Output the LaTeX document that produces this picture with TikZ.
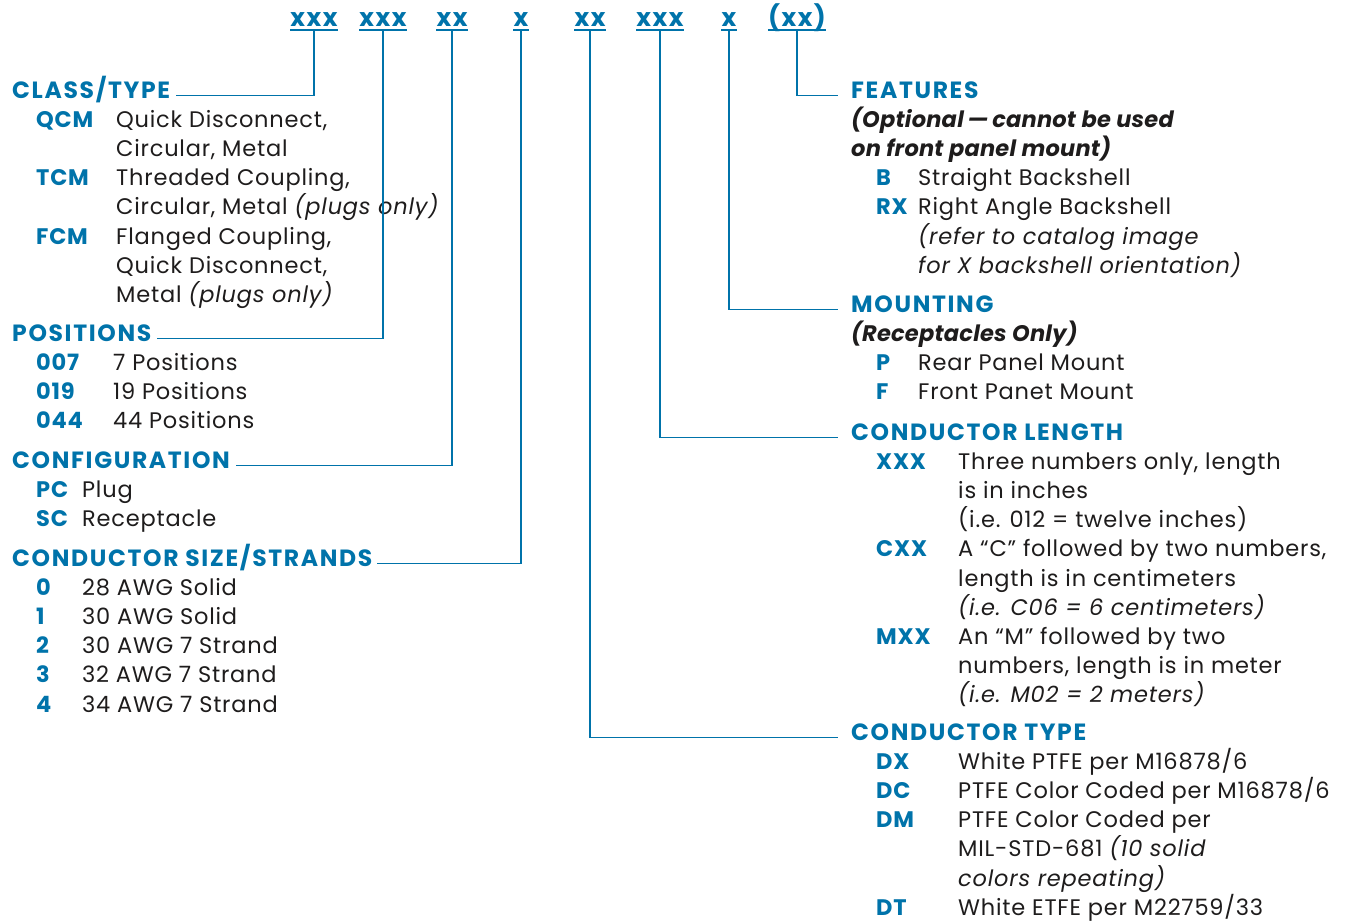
\documentclass[tikz,border=0pt]{standalone}
\usepackage{fontspec}
\setmainfont{Poppins}
\newfontfamily\bodyfont[LetterSpace=3.5]{Poppins}
\newfontfamily\notefont[LetterSpace=1]{Poppins}
\newfontfamily\headfont[LetterSpace=7]{Poppins}
\newfontfamily\fieldfont[LetterSpace=6]{Poppins}
\definecolor{brand}{RGB}{0,115,170}
\definecolor{ink}{RGB}{30,28,28}

\begin{document}
\begin{tikzpicture}[x=1pt,y=-1pt,
    head/.style={font=\headfont\fontsize{23.5}{28}\selectfont\bfseries, text=brand, anchor=base west, inner sep=0pt},
    code/.style={font=\bodyfont\fontsize{22.5}{27}\selectfont\bfseries, text=brand, anchor=base west, inner sep=0pt},
    desc/.style={font=\bodyfont\fontsize{22.5}{27}\selectfont, text=ink, anchor=base west, inner sep=0pt},
    note/.style={font=\notefont\fontsize{22.5}{27}\selectfont\bfseries\itshape, text=ink, anchor=base west, inner sep=0pt},
    top/.style={font=\fieldfont\fontsize{25}{30}\selectfont\bfseries, text=brand, anchor=base, inner xsep=0pt, inner ysep=3.5pt, text depth=0pt},
    rule/.style={draw=brand, line width=1.8pt},
    lead/.style={draw=brand, line width=1.3pt}]
    \useasboundingbox (0,0) rectangle (1347,922);

    % Line spacing of the lists
    \pgfmathsetmacro{\ls}{29.2}

    % Draw the part number fields
    \node[top] (c1) at (314,26) {xxx};
    \node[top] (c2) at (383,26) {xxx};
    \node[top] (c3) at (452,26) {xx};
    \node[top] (c4) at (521,26) {x};
    \node[top] (c5) at (590,26) {xx};
    \node[top] (c6) at (660,26) {xxx};
    \node[top] (c7) at (729,26) {x};
    \node[top] (c8) at (797,26) {(xx)};
    \foreach \n in {c1,c2,c3,c4,c5,c6,c7,c8}
        \draw[rule] (\n.south west) -- (\n.south east);

    % Left column
    \node[head] (class) at (12,98) {CLASS/TYPE};
    \foreach \c/\d [count=\i] in {QCM/{Quick Disconnect,}, /{Circular, Metal},
        TCM/{Threaded Coupling,}, /{Circular, Metal \textit{(plugs only)}},
        FCM/{Flanged Coupling,}, /{Quick Disconnect,}, /{Metal \textit{(plugs only)}}} {
        \pgfmathsetmacro{\yy}{98+\ls*\i}
        \node[code] (cc\i) at (36,\yy) {\c};
        \node[desc] (cd\i) at (116,\yy) {\d};
    }

    \node[head] (pos) at (12,341) {POSITIONS};
    \foreach \c/\d [count=\i] in {007/{7 Positions}, 019/{19 Positions}, 044/{44 Positions}} {
        \pgfmathsetmacro{\yy}{341+\ls*\i}
        \node[code] (pc\i) at (36,\yy) {\c};
        \node[desc] (pd\i) at (113,\yy) {\d};
    }

    \node[head] (conf) at (12,468) {CONFIGURATION};
    \foreach \c/\d [count=\i] in {PC/{Plug}, SC/{Receptacle}} {
        \pgfmathsetmacro{\yy}{468+\ls*\i}
        \node[code] (fc\i) at (36,\yy) {\c};
        \node[desc] (fd\i) at (82,\yy) {\d};
    }

    \node[head] (size) at (12,566) {CONDUCTOR SIZE/STRANDS};
    \foreach \c/\d [count=\i] in {0/{28 AWG Solid}, 1/{30 AWG Solid}, 2/{30 AWG 7 Strand},
        3/{32 AWG 7 Strand}, 4/{34 AWG 7 Strand}} {
        \pgfmathsetmacro{\yy}{566+\ls*\i}
        \node[code] (sc\i) at (36,\yy) {\c};
        \node[desc] (sd\i) at (82,\yy) {\d};
    }

    % Right column
    \node[head] (feat) at (851,98) {FEATURES};
    \node[note] (fn1) at (851,98+\ls) {(Optional\,—\,cannot be used};
    \node[note] (fn2) at (851,98+2*\ls) {on front panel mount)};
    \foreach \c/\d [count=\i from 3] in {B/{Straight Backshell}, RX/{Right Angle Backshell},
        /{\textit{(refer to catalog image}}, /{\textit{for X backshell orientation)}}} {
        \pgfmathsetmacro{\yy}{98+\ls*\i}
        \node[code] (ec\i) at (876,\yy) {\c};
        \node[desc] (ed\i) at (918,\yy) {\d};
    }

    \node[head] (mount) at (851,312) {MOUNTING};
    \node[note] (mn1) at (851,312+\ls) {(Receptacles Only)};
    \foreach \c/\d [count=\i from 2] in {P/{Rear Panel Mount}, F/{Front Panet Mount}} {
        \pgfmathsetmacro{\yy}{312+\ls*\i}
        \node[code] (mc\i) at (876,\yy) {\c};
        \node[desc] (md\i) at (918,\yy) {\d};
    }

    \node[head] (len) at (851,440) {CONDUCTOR LENGTH};
    \foreach \c/\d [count=\i] in {XXX/{Three numbers only, length}, /{is in inches},
        /{(i.e. 012 = twelve inches)}, CXX/{A “C” followed by two numbers,},
        /{length is in centimeters}, /{\textit{(i.e. C06 = 6 centimeters)}},
        MXX/{An “M” followed by two}, /{numbers, length is in meter},
        /{\textit{(i.e. M02 = 2 meters)}}} {
        \pgfmathsetmacro{\yy}{440+\ls*\i}
        \node[code] (lc\i) at (876,\yy) {\c};
        \node[desc] (ld\i) at (958,\yy) {\d};
    }

    \node[head] (type) at (851,740) {CONDUCTOR TYPE};
    \foreach \c/\d [count=\i] in {DX/{White PTFE per M16878/6}, DC/{PTFE Color Coded per M16878/6},
        DM/{PTFE Color Coded per}, /{MIL-STD-681 \textit{(10 solid}},
        /{\textit{colors repeating)}}, DT/{White ETFE per M22759/33}} {
        \pgfmathsetmacro{\yy}{740+\ls*\i}
        \node[code] (tc\i) at (876,\yy) {\c};
        \node[desc] (td\i) at (958,\yy) {\d};
    }

    % Draw the leaders
    \draw[lead] (c1.south) |- ([xshift=6pt]class.mid east);
    \draw[lead] (c2.south) |- ([xshift=6pt]pos.mid east);
    \draw[lead] (c3.south) |- ([xshift=6pt]conf.mid east);
    \draw[lead] (c4.south) |- ([xshift=4pt]size.mid east);
    \draw[lead] (c5.south) |- ([xshift=-13pt]type.mid west);
    \draw[lead] (c6.south) |- ([xshift=-13pt]len.mid west);
    \draw[lead] (c7.south) |- ([xshift=-13pt]mount.mid west);
    \draw[lead] (c8.south) |- ([xshift=-13pt]feat.mid west);
\end{tikzpicture}
\end{document}
